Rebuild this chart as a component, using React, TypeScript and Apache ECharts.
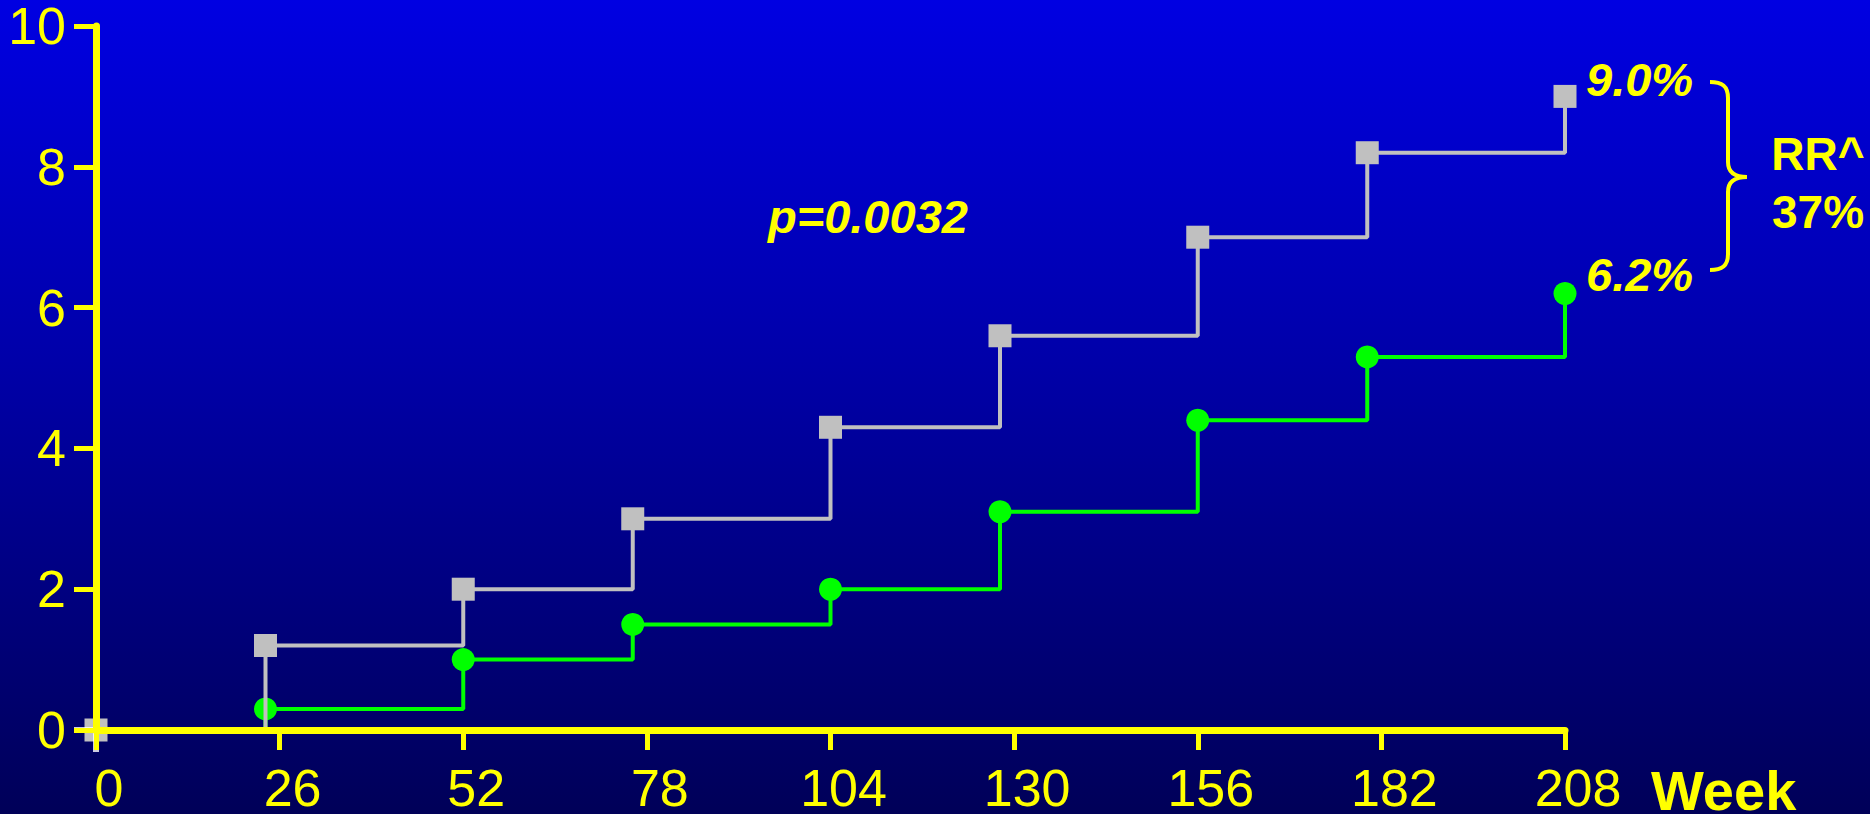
import React, { useEffect, useRef } from "react";
import * as echarts from "echarts";

// Weeks at which cumulative incidence was assessed
const weeks = [0, 24, 52, 76, 104, 128, 156, 180, 208];
// Cumulative incidence (%) – comparator arm (grey squares)
const greyValues = [0, 1.2, 2.0, 3.0, 4.3, 5.6, 7.0, 8.2, 9.0];
// Cumulative incidence (%) – treatment arm (green circles)
const greenValues = [0, 0.3, 1.0, 1.5, 2.0, 3.1, 4.4, 5.3, 6.2];
// Axis settings
const xTicks = [0, 26, 52, 78, 104, 130, 156, 182, 208];
const yTicks = [0, 2, 4, 6, 8, 10];

const YELLOW = "#FFFF00";
const FONT = "'Liberation Sans', Arial, Helvetica, sans-serif";

// Curly brace joining the two end-point labels
const BRACE_D =
  "M0,0 C12,0 18,4 18,16 L18,80 C18,90 24,95 37,95 C24,95 18,100 18,110 L18,172 C18,184 12,188 0,188";
echarts.graphic.registerShape("brace", echarts.graphic.extendPath(BRACE_D, {}) as any);

export default function App() {
  const ref = useRef<HTMLDivElement>(null);

  useEffect(() => {
    if (!ref.current) return;
    const chart = echarts.init(ref.current, undefined, { renderer: "svg" });

    const greyData = weeks.map((w, i) => [w, greyValues[i]]);
    const greenData = weeks.map((w, i) =>
      i === 0 ? { value: [w, greenValues[i]], symbol: "none" } : [w, greenValues[i]]
    );

    const option: any = {
      animation: false,
      backgroundColor: "transparent",
      grid: { left: 96, right: 305, top: 23, bottom: 84, containLabel: false },
      xAxis: {
        type: "value",
        min: xTicks[0],
        max: xTicks[xTicks.length - 1],
        interval: 26,
        z: 10,
        axisLine: { show: true, lineStyle: { color: YELLOW, width: 7 } },
        axisTick: { show: true, inside: false, length: 20, lineStyle: { color: YELLOW, width: 5 } },
        axisLabel: {
          color: YELLOW,
          fontSize: 52,
          lineHeight: 40,
          fontFamily: FONT,
          margin: 38,
          padding: [0, 0, 0, 26],
        },
        splitLine: { show: false },
      },
      yAxis: {
        type: "value",
        min: yTicks[0],
        max: yTicks[yTicks.length - 1],
        interval: 2,
        z: 10,
        axisLine: { show: true, lineStyle: { color: YELLOW, width: 7 } },
        axisTick: { show: true, inside: false, length: 22, lineStyle: { color: YELLOW, width: 5 } },
        axisLabel: {
          color: YELLOW,
          fontSize: 52,
          lineHeight: 40,
          fontFamily: FONT,
          margin: 30,
        },
        splitLine: { show: false },
      },
      series: [
        {
          name: "Treatment",
          type: "line",
          step: "end",
          data: greenData,
          symbol: "circle",
          symbolSize: 23,
          itemStyle: { color: "#00FF00" },
          lineStyle: { color: "#00FF00", width: 4 },
          z: 2,
        },
        {
          name: "Comparator",
          type: "line",
          step: "end",
          data: greyData,
          symbol: "rect",
          symbolSize: 23,
          itemStyle: { color: "#C0C0C0" },
          lineStyle: { color: "#C0C0C0", width: 4 },
          z: 3,
        },
        {
          name: "Start",
          type: "scatter",
          data: [[0, 0]],
          symbol: "path://M19,0 H25 V19 H44 V25 H25 V44 H19 V25 H0 V19 H19 Z",
          symbolSize: 44,
          itemStyle: { color: "#FFFFFF" },
          z: 4,
          silent: true,
        },
      ],
      graphic: [
        {
          type: "text",
          x: 1651,
          y: 790,
          style: {
            text: "Week",
            fill: YELLOW,
            font: `bold 56px ${FONT}`,
            lineHeight: 42,
            verticalAlign: "middle",
          },
        },
        {
          type: "text",
          x: 768,
          y: 216,
          style: {
            text: "p=0.0032",
            fill: YELLOW,
            font: `italic bold 47px ${FONT}`,
            verticalAlign: "middle",
          },
        },
        {
          type: "text",
          x: 1586,
          y: 79,
          style: {
            text: "9.0%",
            fill: YELLOW,
            font: `italic bold 47px ${FONT}`,
            verticalAlign: "middle",
          },
        },
        {
          type: "text",
          x: 1586,
          y: 274,
          style: {
            text: "6.2%",
            fill: YELLOW,
            font: `italic bold 47px ${FONT}`,
            verticalAlign: "middle",
          },
        },
        {
          type: "brace",
          x: 1710,
          y: 82,
          style: { stroke: YELLOW, fill: "none", lineWidth: 4 },
        },
        {
          type: "text",
          x: 1818,
          y: 154,
          style: {
            text: "RR^",
            fill: YELLOW,
            font: `bold 46px ${FONT}`,
            align: "center",
            verticalAlign: "middle",
          },
        },
        {
          type: "text",
          x: 1818,
          y: 212,
          style: {
            text: "37%",
            fill: YELLOW,
            font: `bold 46px ${FONT}`,
            align: "center",
            verticalAlign: "middle",
          },
        },
      ],
    };

    chart.setOption(option);
    return () => chart.dispose();
  }, []);

  return (
    <div
      ref={ref}
      style={{
        position: "absolute",
        left: 0,
        top: 0,
        width: 1870,
        height: 814,
        background: "linear-gradient(to bottom, #0000E2 0%, #0000A8 45%, #000058 100%)",
      }}
    />
  );
}
